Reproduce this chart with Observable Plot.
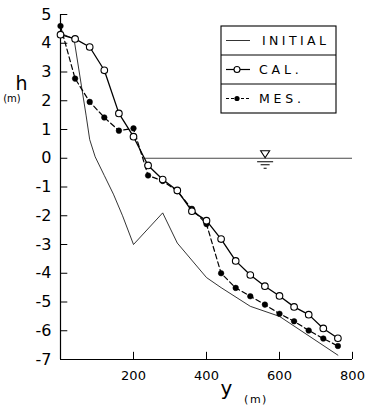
<!DOCTYPE html>
<html>
<head>
<meta charset="utf-8">
<script src="https://cdn.jsdelivr.net/npm/d3@7"></script>
<script src="https://cdn.jsdelivr.net/npm/@observablehq/plot@0.6"></script>
<style>
  html, body { margin: 0; padding: 0; background: #fff; }
  svg { display: block; }
</style>
</head>
<body>
<div id="chart"></div>
<script>
// Distances along profile (m)
const distances = [0, 40, 80, 120, 160, 200, 240, 280, 320, 360, 400, 440, 480, 520, 560, 600, 640, 680, 720, 760];
// Calculated profile (CAL.)
const calH = [4.3, 4.15, 3.87, 3.06, 1.56, 0.75, -0.25, -0.74, -1.12, -1.84, -2.17, -2.81, -3.57, -4.06, -4.45, -4.79, -5.17, -5.44, -5.92, -6.26];
// Measured profile (MES.)
const mesH = [4.6, 2.77, 1.96, 1.42, 0.96, 1.04, -0.6, -0.79, -1.15, -1.76, -2.29, -4.0, -4.51, -4.8, -5.09, -5.41, -5.67, -5.99, -6.27, -6.53];
// Initial profile
const initY = [0, 37, 70, 80, 95, 120, 145, 170, 200, 280, 320, 400, 440, 520, 600, 760];
const initH = [4.35, 4.15, 1.5, 0.65, 0.05, -0.6, -1.25, -2.0, -3.0, -1.9, -2.95, -4.15, -4.5, -5.15, -5.5, -6.85];
// Axis ticks
const xTicks = [200, 400, 600, 800];
const yTicks = [5, 4, 3, 2, 1, 0, -1, -2, -3, -4, -5, -6, -7];
// Still water level
const waterStart = 228;
const waterEnd = 800;
const waterSymbolY = 562;
const legendLabels = ["INITIAL", "CAL.", "MES."];

const cal = distances.map((d, i) => ({y: d, h: calH[i]}));
const mes = distances.map((d, i) => ({y: d, h: mesH[i]}));
const init = initY.map((d, i) => ({y: d, h: initH[i]}));

const plot = Plot.plot({
  width: 367,
  height: 408,
  marginLeft: 60,
  marginRight: 15,
  marginTop: 14,
  marginBottom: 49,
  style: {fontFamily: "DejaVu Sans", background: "#fff", color: "#000"},
  x: {domain: [0, 800], axis: null},
  y: {domain: [-7, 5], axis: null},
  marks: [
    // axes
    Plot.ruleX([0], {stroke: "#000", strokeWidth: 1.2}),
    Plot.ruleY([-7], {stroke: "#000", strokeWidth: 1.2}),
    Plot.ruleY(yTicks, {y: d => d, x1: 0, x2: 20, stroke: "#000", strokeWidth: 1}),
    Plot.ruleX(xTicks, {x: d => d, y1: -7, y2: -6.75, stroke: "#000", strokeWidth: 1}),
    Plot.axisY(yTicks, {tickSize: 0, tickPadding: 9, fontSize: 16, label: null, tickFormat: d => String(d)}),
    Plot.axisX(xTicks, {tickSize: 0, tickPadding: 11, fontSize: 13, label: null, tickFormat: d => String(d)}),
    // water level
    Plot.ruleY([0], {x1: waterStart, x2: waterEnd, stroke: "#333", strokeWidth: 0.9}),
    // profiles
    Plot.line(init, {x: "y", y: "h", stroke: "#000", strokeWidth: 0.8}),
    Plot.line(cal, {x: "y", y: "h", stroke: "#000", strokeWidth: 1.3}),
    Plot.line(mes, {x: "y", y: "h", stroke: "#000", strokeWidth: 1.2, strokeDasharray: "5,3"}),
    Plot.dot(mes, {x: "y", y: "h", r: 2.8, fill: "#000", stroke: "#000", strokeWidth: 0.5}),
    Plot.dot(cal, {x: "y", y: "h", r: 3.3, fill: "#fff", stroke: "#000", strokeWidth: 1.1})
  ]
});

document.getElementById("chart").appendChild(plot);

const svg = d3.select(plot);
const sx = plot.scale("x").apply(waterSymbolY);
const sy = plot.scale("y").apply(0);
const ws = svg.append("g").attr("stroke", "#000").attr("fill", "none");
ws.append("path").attr("d", `M${sx - 4.5},${sy - 7}L${sx + 4.5},${sy - 7}L${sx},${sy}Z`).attr("stroke-width", 1.1);
ws.append("line").attr("x1", sx - 8).attr("x2", sx + 8).attr("y1", sy + 4).attr("y2", sy + 4).attr("stroke-width", 1);
ws.append("line").attr("x1", sx - 4.5).attr("x2", sx + 4.5).attr("y1", sy + 7).attr("y2", sy + 7).attr("stroke-width", 1);
ws.append("line").attr("x1", sx - 1.5).attr("x2", sx + 1.5).attr("y1", sy + 10.5).attr("y2", sy + 10.5).attr("stroke-width", 1);

// axis titles
const t = svg.append("g").attr("font-family", "DejaVu Sans").attr("fill", "#000").attr("text-anchor", "middle");
t.append("text").attr("x", 21.5).attr("y", 90).attr("font-size", 19).text("h");
t.append("text").attr("x", 12).attr("y", 102).attr("font-size", 10).text("(m)");
t.append("text").attr("x", 226.5).attr("y", 395).attr("font-size", 20).text("y");
t.append("text").attr("x", 256).attr("y", 403).attr("font-size", 11).attr("letter-spacing", 1.5).text("(m)");

// legend box
const lg = svg.append("g");
const bx = 221, by = 26, bw = 115, rh = 29;
lg.append("rect").attr("x", bx).attr("y", by).attr("width", bw).attr("height", rh * 3)
  .attr("fill", "#fff").attr("stroke", "#000").attr("stroke-width", 1.1);
lg.append("line").attr("x1", bx).attr("x2", bx + bw).attr("y1", by + rh).attr("y2", by + rh).attr("stroke", "#000");
lg.append("line").attr("x1", bx).attr("x2", bx + bw).attr("y1", by + 2 * rh).attr("y2", by + 2 * rh).attr("stroke", "#000");
legendLabels.forEach((lab, i) => {
  const cy = by + rh * i + rh / 2;
  const l = lg.append("line").attr("x1", 226).attr("x2", 250).attr("y1", cy).attr("y2", cy).attr("stroke", "#000");
  if (i === 0) l.attr("stroke-width", 0.8);
  if (i === 1) {
    l.attr("stroke-width", 1.2);
    lg.append("circle").attr("cx", 237).attr("cy", cy).attr("r", 3).attr("fill", "#fff").attr("stroke", "#000").attr("stroke-width", 1.1);
  }
  if (i === 2) {
    l.attr("stroke-width", 1.1).attr("stroke-dasharray", "3,2");
    lg.append("circle").attr("cx", 237).attr("cy", cy).attr("r", 2.6).attr("fill", "#000");
  }
  lg.append("text").attr("x", i === 0 ? 262 : 259).attr("y", cy).attr("dy", "0.36em")
    .attr("text-anchor", "start")
    .attr("font-family", "DejaVu Sans").attr("font-size", 12.5).attr("letter-spacing", i === 0 ? 3.4 : 3.8)
    .attr("fill", "#000").text(lab);
});
</script>
</body>
</html>
